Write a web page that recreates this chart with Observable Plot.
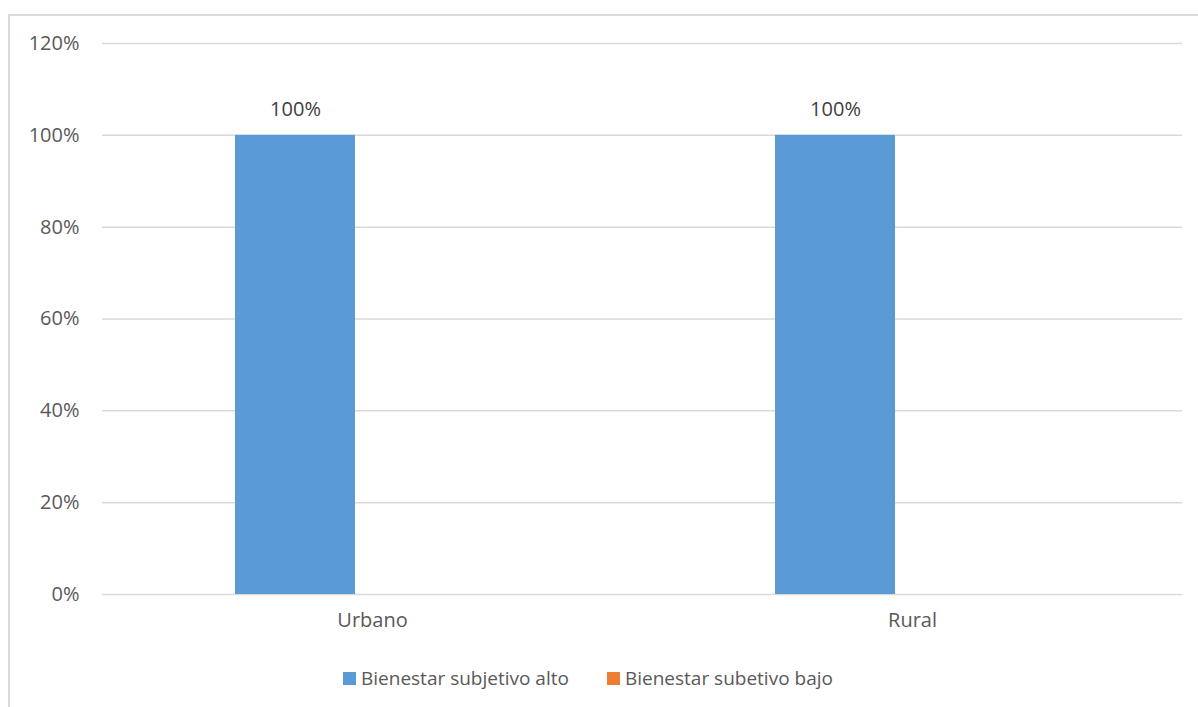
<!DOCTYPE html>
<html>
<head>
<meta charset="utf-8">
<script src="https://cdn.jsdelivr.net/npm/d3@7"></script>
<script src="https://cdn.jsdelivr.net/npm/@observablehq/plot@0.6"></script>
<style>
  html, body { margin: 0; padding: 0; background: #fff; }
  #wrap { position: relative; width: 1198px; height: 707px; overflow: hidden; font-family: "Open Sans", sans-serif; }
  #frame { position: absolute; left: 8px; top: 14px; width: 1300px; height: 800px; border-left: 2px solid #d9d9d9; border-top: 2px solid #d9d9d9; box-sizing: border-box; }
  #chart { position: absolute; left: 0; top: 0; }
  #legend { position: absolute; left: 343px; top: 665px; display: flex; align-items: center; font-size: 19px; color: #595959; white-space: nowrap; }
  .item { display: flex; align-items: center; margin-right: 38px; }
  .sw { width: 13px; height: 13px; margin-right: 5px; }
</style>
</head>
<body>
<div id="wrap">
  <div id="frame"></div>
  <div id="chart"></div>
  <div id="legend"></div>
</div>
<script>
const categories = ["Urbano", "Rural"];
const series = ["Bienestar subjetivo alto", "Bienestar subetivo bajo"];
const valuesAlto = [1.00, 1.00];
const valuesBajo = [0.00, 0.00];
const yTicks = [0, 0.2, 0.4, 0.6, 0.8, 1.0, 1.2];
const colors = ["#5B9BD5", "#ED7D31"];

const data = [];
categories.forEach((c, i) => {
  data.push({category: c, series: series[0], value: valuesAlto[i]});
  data.push({category: c, series: series[1], value: valuesBajo[i]});
});

const pct = d3.format(".0%");

const chart = Plot.plot({
  width: 1198,
  height: 650,
  marginLeft: 102,
  marginRight: 16,
  marginTop: 43,
  marginBottom: 56,
  style: {fontFamily: "Open Sans, sans-serif", fontSize: "20px", color: "#595959", background: "transparent"},
  fx: {domain: categories, paddingInner: 0, paddingOuter: 0, label: null},
  x: {domain: series, paddingInner: 0.2208, paddingOuter: 0.8636, axis: null},
  y: {domain: [0, 1.2], axis: null},
  color: {domain: series, range: colors},
  marks: [
    Plot.gridY(yTicks, {stroke: "#d9d9d9", strokeWidth: 1.5, strokeOpacity: 1}),
    Plot.axisY(yTicks, {frameAnchor: "left", tickSize: 0, tickPadding: 23, tickFormat: pct, fill: "#595959", fontSize: 20, label: null}),
    Plot.barY(data, {fx: "category", x: "series", y: "value", fill: "series"}),
    Plot.text(data.filter(d => d.value > 0), {fx: "category", x: "series", y: "value", text: d => pct(d.value), dy: -26, fill: "#404040", fontSize: 20}),
    Plot.axisFx({anchor: "bottom", tickSize: 0, tickPadding: 18, fill: "#595959", fontSize: 20, label: null})
  ]
});
document.getElementById("chart").appendChild(chart);

const legend = document.getElementById("legend");
series.forEach((s, i) => {
  const item = document.createElement("div");
  item.className = "item";
  const sw = document.createElement("div");
  sw.className = "sw";
  sw.style.background = colors[i];
  const t = document.createElement("span");
  t.textContent = s;
  item.appendChild(sw);
  item.appendChild(t);
  legend.appendChild(item);
});
</script>
</body>
</html>
